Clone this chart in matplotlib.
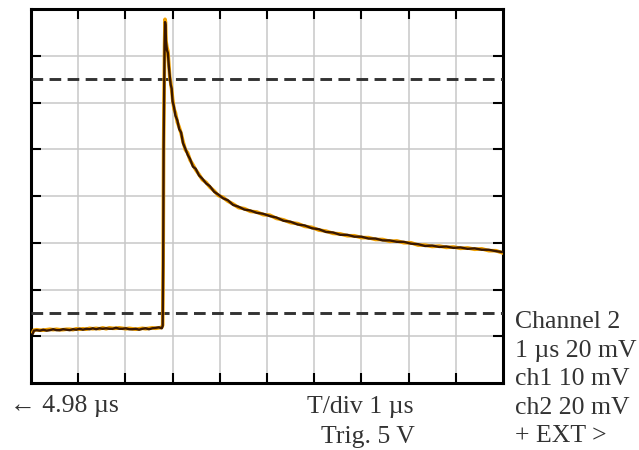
import matplotlib
matplotlib.use("Agg")
import matplotlib.pyplot as plt

# ---- data (x in divisions, y in divisions) ----
t = [0.04, 0.06, 0.12, 0.19, 0.26, 0.33, 0.40, 0.47, 0.54, 0.61, 0.68, 0.75, 0.82, 0.89,
     0.96, 1.03, 1.10, 1.17, 1.24, 1.31, 1.38, 1.45, 1.52, 1.59, 1.66, 1.73, 1.80, 1.87,
     1.94, 2.01, 2.08, 2.15, 2.22, 2.29, 2.36, 2.43, 2.50, 2.57, 2.64, 2.71, 2.77, 2.79,
     2.80, 2.81, 2.83, 2.84, 2.85, 2.86, 2.88, 2.90, 2.92, 2.94, 2.96, 2.98, 3.00, 3.03,
     3.06, 3.10, 3.14, 3.18, 3.22, 3.27, 3.32, 3.37, 3.43, 3.49, 3.56, 3.63, 3.71, 3.79,
     3.88, 3.97, 4.07, 4.17, 4.28, 4.40, 4.52, 4.65, 4.78, 4.92, 5.06, 5.20, 5.35, 5.50,
     5.65, 5.80, 5.95, 6.10, 6.25, 6.40, 6.55, 6.70, 6.85, 7.00, 7.15, 7.30, 7.45, 7.60,
     7.75, 7.90, 8.05, 8.20, 8.35, 8.50, 8.65, 8.80, 8.95, 9.10, 9.25, 9.40, 9.55, 9.70,
     9.85, 10.0]

v_dark = [1.06, 1.12, 1.13, 1.12, 1.14, 1.12, 1.13, 1.15, 1.13, 1.13, 1.15, 1.14, 1.13, 1.15,
          1.14, 1.16, 1.14, 1.16, 1.15, 1.17, 1.15, 1.17, 1.16, 1.17, 1.16, 1.16, 1.18, 1.16,
          1.16, 1.17, 1.15, 1.15, 1.16, 1.14, 1.16, 1.17, 1.15, 1.17, 1.18, 1.19, 1.17, 1.22,
          2.50, 5.00, 7.20, 7.72, 7.66, 7.30, 7.12, 7.06, 6.78, 6.56, 6.38, 6.30, 6.02, 5.90,
          5.72, 5.62, 5.43, 5.36, 5.13, 5.01, 4.88, 4.79, 4.63, 4.58, 4.44, 4.37, 4.27, 4.21,
          4.09, 4.03, 3.95, 3.91, 3.81, 3.77, 3.71, 3.69, 3.64, 3.62, 3.57, 3.54, 3.47, 3.45,
          3.39, 3.37, 3.31, 3.29, 3.23, 3.22, 3.17, 3.17, 3.13, 3.13, 3.09, 3.09, 3.05, 3.05,
          3.02, 3.02, 2.98, 2.97, 2.93, 2.94, 2.91, 2.92, 2.89, 2.90, 2.87, 2.88, 2.85, 2.85,
          2.82, 2.80]

v_orange = [1.09, 1.13, 1.14, 1.13, 1.13, 1.14, 1.15, 1.14, 1.15, 1.14, 1.14, 1.15, 1.15, 1.14,
            1.16, 1.15, 1.16, 1.15, 1.17, 1.16, 1.17, 1.16, 1.18, 1.16, 1.18, 1.17, 1.17, 1.18,
            1.17, 1.16, 1.17, 1.16, 1.15, 1.16, 1.17, 1.16, 1.17, 1.18, 1.17, 1.18, 1.19, 1.24,
            2.60, 5.10, 7.25, 7.78, 7.72, 7.32, 7.18, 7.10, 6.82, 6.54, 6.42, 6.28, 6.08, 5.86,
            5.78, 5.58, 5.47, 5.34, 5.17, 4.99, 4.92, 4.77, 4.67, 4.56, 4.46, 4.35, 4.29, 4.19,
            4.11, 4.01, 3.97, 3.89, 3.83, 3.75, 3.73, 3.67, 3.66, 3.60, 3.59, 3.52, 3.49, 3.43,
            3.41, 3.35, 3.33, 3.27, 3.25, 3.20, 3.19, 3.15, 3.15, 3.11, 3.11, 3.07, 3.07, 3.03,
            3.04, 3.00, 3.00, 2.95, 2.95, 2.92, 2.93, 2.90, 2.91, 2.88, 2.89, 2.86, 2.87, 2.83,
            2.83, 2.78]

ref_levels = [6.5, 1.5]
x_divs = 10
y_divs = 8

left_label = "\u2190 4.98 \u00b5s"
center_labels = ["T/div 1 \u00b5s", "Trig. 5 V"]
right_labels = ["Channel 2", "1 \u00b5s 20 mV", "ch1 10 mV", "ch2 20 mV", "+ EXT >"]

# ---- figure ----
plt.rcParams['lines.scale_dashes'] = False
fig = plt.figure(figsize=(6.39, 4.50), dpi=100)
ax = fig.add_axes([31/639, 1 - 383/450, 472/639, 374/450])
ax.set_xlim(0, x_divs)
ax.set_ylim(0, y_divs)

ax.set_xticks(range(1, x_divs))
ax.set_yticks(range(1, y_divs))
ax.grid(True, color="#c8c8c8", linewidth=1.1)
ax.set_axisbelow(True)
ax.tick_params(direction="in", length=7, width=1.5, color="black",
               top=True, right=True, labelbottom=False, labelleft=False)
for s in ax.spines.values():
    s.set_linewidth(2.2)
    s.set_color("black")

for lv in ref_levels:
    ax.axhline(lv, color="#333333", linewidth=2.1, dashes=(8.4, 4.6), zorder=3)

ax.plot(t, v_orange, color="#f0a000", linewidth=2.6, zorder=4, solid_joinstyle="round")
ax.plot(t, v_dark, color="#3a1800", linewidth=1.7, zorder=5, solid_joinstyle="round")

serif = ["Liberation Serif", "DejaVu Serif"]
fs = 18.5
col = "#333333"
fig.text(10/639, 1 - 412/450, left_label, family=serif, fontsize=fs, color=col,
         ha="left", va="baseline")
fig.text(307/639, 1 - 413/450, center_labels[0], family=serif, fontsize=fs, color=col,
         ha="left", va="baseline")
fig.text(321/639, 1 - 443/450, center_labels[1], family=serif, fontsize=fs, color=col,
         ha="left", va="baseline")
for i, lab in enumerate(right_labels):
    fig.text(515/639, 1 - (328 + i*28.5)/450, lab, family=serif, fontsize=fs, color=col,
             ha="left", va="baseline")

fig.savefig("out.png", dpi=100)
